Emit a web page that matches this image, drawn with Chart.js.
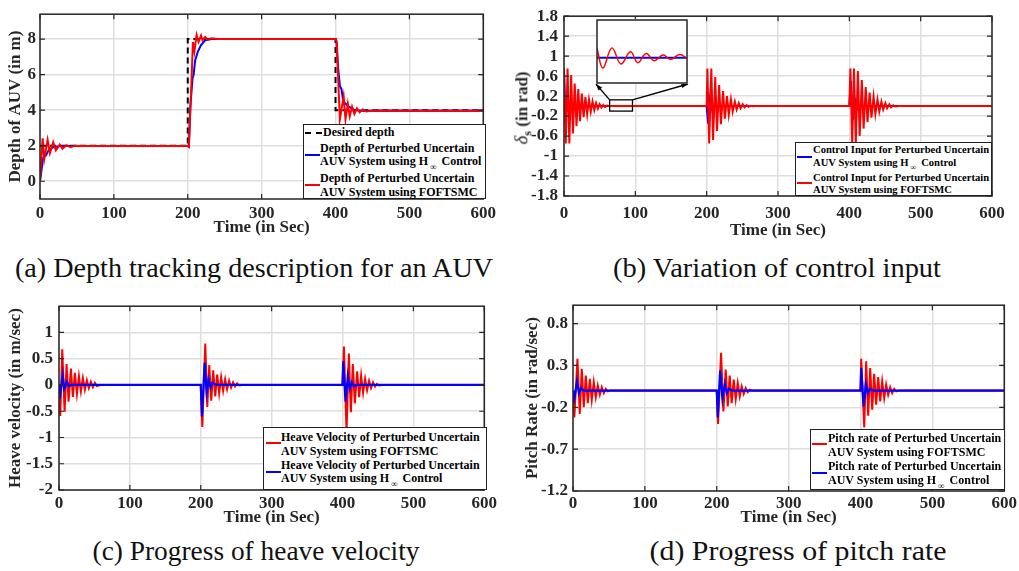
<!DOCTYPE html>
<html>
<head>
<meta charset="utf-8">
<script src="https://cdn.jsdelivr.net/npm/chart.js@4.4.0/dist/chart.umd.min.js"></script>
<style>
  body { margin:0; background:#fff; width:1019px; height:571px; position:relative; overflow:hidden; font-family:"Liberation Serif", serif; }
  .box { position:absolute; }
  .leg { position:absolute; background:#fff; border:1.3px solid #222; box-sizing:border-box; font-weight:bold; color:#000; z-index:5; }
  .leg .t { position:absolute; white-space:nowrap; line-height:14px; }
  .leg .s { position:absolute; height:0; border-top:2px solid; width:15px; }
  .sub { font-size:9px; position:relative; top:5px; margin:0 5px 0 2px; }
  .cap { position:absolute; white-space:nowrap; font-size:27px; color:#111; font-family:"Liberation Serif", serif; }
  #ytB { position:absolute; left:523px; top:108px; transform:translate(-50%,-50%) rotate(-90deg); white-space:nowrap; font-weight:bold; font-size:17px; color:#262626; }
</style>
</head>
<body>

<div class="box" style="left:0;top:0"><canvas id="cA" width="500" height="236"></canvas></div>
<div class="box" style="left:500px;top:0"><canvas id="cB" width="519" height="239"></canvas></div>
<div class="box" style="left:596px;top:19px;z-index:4"><canvas id="cIn" width="92" height="65"></canvas></div>
<div class="box" style="left:0;top:290px"><canvas id="cC" width="500" height="236"></canvas></div>
<div class="box" style="left:500px;top:290px"><canvas id="cD" width="519" height="236"></canvas></div>

<div id="ytB"><i style="font-weight:normal;font-size:19px">δ</i><sub style="font-size:12px">s</sub> (in rad)</div>

<!-- legends -->
<div class="leg" style="left:303px;top:124px;width:183px;height:75px;font-size:12px">
  <div class="s" style="left:1px;top:7px;border-top:2px dashed #000;width:17px"></div>
  <div class="t" style="left:19px;top:0px">Desired depth</div>
  <div class="t" style="left:16px;top:16px">Depth of Perturbed Uncertain</div>
  <div class="s" style="left:1px;top:29px;border-color:#0000ff"></div>
  <div class="t" style="left:16px;top:29px">AUV System using H<span class="sub">∞</span>Control</div>
  <div class="t" style="left:16px;top:46px">Depth of Perturbed Uncertain</div>
  <div class="s" style="left:1px;top:59px;border-color:#ff0000"></div>
  <div class="t" style="left:16px;top:60px">AUV System using FOFTSMC</div>
</div>

<div class="leg" style="left:795px;top:142px;width:197px;height:54px;font-size:10.6px">
  <div class="t" style="left:17px;top:1px;line-height:12px">Control Input for Perturbed Uncertain</div>
  <div class="s" style="left:1px;top:13px;border-color:#0000ff"></div>
  <div class="t" style="left:17px;top:14px;line-height:12px">AUV System using H<span class="sub" style="font-size:8px;top:4px">∞</span>Control</div>
  <div class="t" style="left:17px;top:29px;line-height:12px">Control Input for Perturbed Uncertain</div>
  <div class="s" style="left:1px;top:39px;border-color:#ff0000"></div>
  <div class="t" style="left:17px;top:41px;line-height:12px">AUV System using FOFTSMC</div>
</div>

<div class="leg" style="left:263px;top:427px;width:224px;height:63px;font-size:12px">
  <div class="t" style="left:17px;top:2px">Heave Velocity of Perturbed Uncertain</div>
  <div class="s" style="left:2px;top:14px;border-color:#ff0000"></div>
  <div class="t" style="left:17px;top:16px">AUV System using FOFTSMC</div>
  <div class="t" style="left:17px;top:30px">Heave Velocity of Perturbed Uncertain</div>
  <div class="s" style="left:2px;top:43px;border-color:#0000ff"></div>
  <div class="t" style="left:17px;top:43px">AUV System using H<span class="sub">∞</span>Control</div>
</div>

<div class="leg" style="left:810px;top:429px;width:195px;height:61px;font-size:12px">
  <div class="t" style="left:17px;top:1px">Pitch rate of Perturbed Uncertain</div>
  <div class="s" style="left:1px;top:13px;border-color:#ff0000"></div>
  <div class="t" style="left:17px;top:15px">AUV System using FOFTSMC</div>
  <div class="t" style="left:17px;top:29px">Pitch rate of Perturbed Uncertain</div>
  <div class="s" style="left:1px;top:42px;border-color:#0000ff"></div>
  <div class="t" style="left:17px;top:43px">AUV System using H<span class="sub">∞</span>Control</div>
</div>

<!-- captions -->
<div class="cap" data-x="254" data-y="268" data-w="478">(a) Depth tracking description for an AUV</div>
<div class="cap" data-x="777" data-y="268" data-w="328">(b) Variation of control input</div>
<div class="cap" data-x="256" data-y="551" data-w="327">(c) Progress of heave velocity</div>
<div class="cap" data-x="798" data-y="551" data-w="297">(d) Progress of pitch rate</div>

<script>
// ---- data ----
const timeTicks = [0, 100, 200, 300, 400, 500, 600];

// (a) depth
const depthTicks = [0, 2, 4, 6, 8];
const depthDesT = [0, 200, 200, 400, 400, 600];
const depthDesV = [2, 2, 8, 8, 4, 4];
const depthHinfT = [0, 2, 4, 6, 8, 11, 15, 20, 28, 40,
  200, 201.5, 203.5, 206.5, 208, 210, 213.7, 218, 223.5, 232,
  400, 401.5, 403.5, 406, 408, 410.5, 413.5, 418, 425, 435, 600];
const depthHinfV = [0, 0.6, 1.3, 1.4, 1.45, 1.7, 1.85, 1.93, 1.98, 1.98,
  1.98, 1.95, 4.2, 5.8, 6.0, 6.8, 7.3, 7.66, 7.93, 8.0,
  8.0, 7.8, 6.4, 5.35, 5.2, 4.5, 4.37, 4.2, 4.03, 3.97, 3.97];
const depthFoT = [0, 3.6, 5.8, 10.3, 13.4, 17.9, 21.5, 26.8, 30.4, 35.8, 41.1, 47, 55,
  200, 201.5, 204, 207, 209, 212, 214.6, 218, 220, 223.5, 227, 232, 240,
  400, 401.5, 405.9, 411, 413.5, 416.7, 419.3, 422.4, 425.6, 429, 432.7, 436.8, 442, 450, 600];
const depthFoV = [0, 2.42, 1.26, 2.33, 1.58, 2.19, 1.74, 2.06, 1.83, 2.03, 1.92, 2.0, 1.98,
  1.98, 1.93, 4.5, 7.84, 7.3, 8.23, 7.84, 8.2, 7.93, 8.12, 7.96, 8.05, 8.0,
  8.0, 7.9, 3.48, 4.78, 3.48, 4.37, 3.66, 4.2, 3.79, 4.1, 3.88, 4.04, 3.93, 3.98, 3.97];

// (b) control input
const ctrlTicks = [-1.8, -1.4, -1, -0.6, -0.2, 0.2, 0.6, 1, 1.4, 1.8];
const ctrlFoT = [0, 2.5, 5, 7.5, 10, 12.5, 15, 17.5, 20, 22.5, 25, 27.5, 30, 32.5, 35, 37.5, 40, 42.5, 45, 47.5, 50, 52.5, 55, 57.5, 60, 64,
  200, 201, 203.5, 206.5, 209, 212, 214.5, 217.5, 220, 223, 225.5, 228.5, 231, 234, 236.5, 239.5, 242, 245, 247.5, 250.5, 253, 256, 258.5, 261.5, 264, 270,
  400, 401.5, 404, 406.5, 409, 412, 414.5, 417.5, 420, 423, 425.5, 428.5, 431, 434, 436.5, 439.5, 442, 445, 447.5, 450.5, 453, 456, 458.5, 461.5, 464, 470, 600];
const ctrlFoV = [0.75, -0.75, 0.75, -0.75, 0.62, -0.55, 0.45, -0.4, 0.34, -0.3, 0.25, -0.22, 0.18, -0.16, 0.13, -0.11, 0.09, -0.08, 0.06, -0.05, 0.04, -0.03, 0.025, -0.02, 0.01, 0,
  0, 0.75, -0.75, 0.75, -0.68, 0.58, -0.5, 0.42, -0.36, 0.3, -0.25, 0.2, -0.17, 0.14, -0.11, 0.09, -0.07, 0.06, -0.045, 0.035, -0.025, 0.02, -0.012, 0.008, -0.004, 0,
  0, 0.75, -0.75, 0.75, -0.75, 0.7, -0.6, 0.52, -0.45, 0.38, -0.32, 0.27, -0.23, 0.19, -0.16, 0.13, -0.11, 0.09, -0.07, 0.06, -0.045, 0.035, -0.025, 0.015, -0.008, 0, 0];
const ctrlHinfT = [0, 2, 4, 6, 8, 10, 200, 202, 205, 208, 211, 214, 400, 402, 405, 408, 411, 414, 418, 600];
const ctrlHinfV = [0.7, -0.25, 0.1, -0.05, 0.02, 0, 0, -0.35, 0.2, -0.08, 0.04, 0, 0, 0.5, -0.27, 0.12, -0.06, 0.03, 0, 0];
// zoomed window (inset)
const zoomT = [64, 96];
const zoomV = [-0.1, 0.125];
const insetT = [64, 66.1, 69.3, 72.5, 75.9, 78.5, 81.5, 84.3, 87.5, 90.2, 93.4, 96];
const insetFoV = [0.0028, -0.0032, 0.003, -0.0019, 0.0018, -0.0015, 0.0013, -0.0009, 0.0008, -0.0005, 0.001, -0.0002];
const insetHinfT = [64, 96];
const insetHinfV = [0, 0];

// (c) heave velocity
const heaveTicks = [-2, -1.5, -1, -0.5, 0, 0.5, 1];
const heaveFoT = [0, 1.8, 4.6, 7.9, 10.7, 13.5, 16.8, 19.6, 22.4, 25.3, 28.1, 30.9, 33.7, 36.5, 39.3, 42.1, 45, 47.8, 50.6, 53.4, 58,
  200, 202.2, 206.4, 209.2, 212, 214.8, 217.6, 220.4, 223.2, 226, 228.8, 231.6, 234.4, 237.2, 240, 242.8, 245.6, 248.4, 251.2, 254, 258,
  400, 402, 405.7, 409, 411.8, 414.6, 417.4, 420.7, 423.5, 426.3, 429.1, 431.9, 434.7, 437.5, 440.3, 443.1, 445.9, 448.7, 451.5, 455.7, 600];
const heaveFoV = [0, -0.59, 0.68, -0.51, 0.4, -0.32, 0.31, -0.23, 0.23, -0.17, 0.17, -0.12, 0.13, -0.09, 0.09, -0.06, 0.06, -0.04, 0.04, -0.02, 0,
  0, -0.8, 0.79, -0.42, 0.38, -0.3, 0.28, -0.22, 0.2, -0.16, 0.15, -0.11, 0.11, -0.08, 0.08, -0.05, 0.05, -0.03, 0.03, -0.01, 0,
  0, 0.73, -0.9, 0.6, -0.52, 0.4, -0.35, 0.26, -0.23, 0.18, -0.15, 0.12, -0.1, 0.08, -0.06, 0.05, -0.03, 0.02, -0.01, 0, 0];
const heaveHinfT = [0, 1, 5.2, 7.4, 11.2, 14, 18, 200, 201.7, 205.5, 208.3, 211, 213.8, 216.6, 222, 400, 401, 404.3, 407.5, 410.3, 413.1, 416, 420, 600];
const heaveHinfV = [0, -0.26, 0.19, -0.07, 0.06, -0.02, 0, 0, -0.6, 0.42, -0.15, 0.11, -0.05, 0.04, 0, 0, 0.45, -0.32, 0.17, -0.07, 0.05, -0.02, 0, 0];

// (d) pitch rate
const pitchTicks = [-1.2, -0.7, -0.2, 0.3, 0.8];
const pitchFoT = [0, 1.9, 6.2, 9.4, 12.2, 15, 17.8, 20.6, 23.4, 26.1, 28.9, 31.7, 34.5, 37.3, 40.1, 42.9, 45.7, 48.4, 51.2,
  200, 201.8, 206, 209.2, 212.5, 215.3, 218, 220.8, 223.6, 226.4, 229.2, 232, 234.7, 237.5, 240.3, 243.1, 245.9, 249.6,
  400, 401, 405.2, 407.9, 410.7, 413.5, 416.3, 419, 421.8, 424.6, 427.4, 430.2, 433, 435.7, 438.5, 441.3, 444.1, 446.9, 449.7, 453.4, 600];
const pitchFoV = [0, -0.32, 0.38, -0.28, 0.26, -0.2, 0.18, -0.15, 0.14, -0.11, 0.1, -0.08, 0.06, -0.05, 0.04, -0.03, 0.02, -0.01, 0,
  0, -0.4, 0.45, -0.25, 0.25, -0.19, 0.18, -0.15, 0.13, -0.1, 0.09, -0.07, 0.05, -0.04, 0.03, -0.02, 0.01, 0,
  0, 0.38, -0.44, 0.35, -0.3, 0.27, -0.23, 0.2, -0.17, 0.16, -0.13, 0.11, -0.09, 0.07, -0.05, 0.04, -0.03, 0.02, -0.01, 0, 0];
const pitchHinfT = [0, 1, 5.6, 8.3, 11.1, 14.8, 200, 201.4, 204.7, 207.9, 211.2, 214, 217, 222, 400, 401, 404.3, 407.5, 410.3, 413.1, 418, 600];
const pitchHinfV = [0, -0.15, 0.11, -0.03, 0.03, 0, 0, -0.32, 0.24, -0.1, 0.08, -0.03, 0.02, 0, 0, 0.27, -0.19, 0.08, -0.03, 0.02, 0, 0];

// ---- helpers ----
const RED = '#ff0000', BLUE = '#0000ff', INK = '#262626', GRID = '#dedede';
const serif = '"Liberation Serif", "Times New Roman", serif';
const tickFont = { family: serif, size: 17, weight: 'bold' };
const titleFont = { family: serif, size: 17, weight: 'bold', lineHeight: 1 };

function series(t, v) { return t.map((x, i) => ({ x: x, y: v[i] })); }

// matlab style box with inward ticks
const framePlugin = {
  id: 'frame',
  afterDraw(chart, args, opts) {
    const { ctx, chartArea: a } = chart;
    ctx.save();
    ctx.strokeStyle = INK;
    ctx.lineWidth = opts.width || 1.5;
    ctx.strokeRect(a.left, a.top, a.right - a.left, a.bottom - a.top);
    if (opts.ticks) {
      const L = 5;
      ctx.lineWidth = 1.2;
      ctx.beginPath();
      chart.scales.x.ticks.forEach(t => {
        const px = chart.scales.x.getPixelForValue(t.value);
        ctx.moveTo(px, a.bottom); ctx.lineTo(px, a.bottom - L);
        ctx.moveTo(px, a.top); ctx.lineTo(px, a.top + L);
      });
      chart.scales.y.ticks.forEach(t => {
        const py = chart.scales.y.getPixelForValue(t.value);
        ctx.moveTo(a.left, py); ctx.lineTo(a.left + L, py);
        ctx.moveTo(a.right, py); ctx.lineTo(a.right - L, py);
      });
      ctx.stroke();
    }
    ctx.restore();
  }
};

function arrow(ctx, x0, y0, x1, y1) {
  ctx.beginPath(); ctx.moveTo(x0, y0); ctx.lineTo(x1, y1); ctx.stroke();
  const ang = Math.atan2(y1 - y0, x1 - x0), h = 7;
  ctx.beginPath();
  ctx.moveTo(x1, y1);
  ctx.lineTo(x1 - h * Math.cos(ang - 0.35), y1 - h * Math.sin(ang - 0.35));
  ctx.lineTo(x1 - h * Math.cos(ang + 0.35), y1 - h * Math.sin(ang + 0.35));
  ctx.closePath(); ctx.fill();
}

// small box on (b) and the arrows to the inset
const zoomPlugin = {
  id: 'zoomMark',
  afterDatasetsDraw(chart) {
    const { ctx, scales: { x, y } } = chart;
    const x0 = x.getPixelForValue(zoomT[0]), x1 = x.getPixelForValue(zoomT[1]);
    const y0 = y.getPixelForValue(zoomV[1]), y1 = y.getPixelForValue(zoomV[0]);
    ctx.save();
    ctx.strokeStyle = '#000'; ctx.fillStyle = '#000'; ctx.lineWidth = 1.3;
    ctx.strokeRect(x0, y0, x1 - x0, y1 - y0);
    arrow(ctx, x0, y0, 96, 84);
    arrow(ctx, x1, y0, 188, 84);
    ctx.restore();
  }
};

function build(id, o) {
  return new Chart(document.getElementById(id), {
    type: 'line',
    data: { datasets: o.datasets },
    options: {
      responsive: false, animation: false, devicePixelRatio: 1,
      layout: { padding: o.pad },
      elements: { point: { radius: 0 }, line: { tension: 0 } },
      plugins: { legend: { display: false }, tooltip: { enabled: false }, frame: { ticks: true } },
      scales: {
        x: {
          type: 'linear', min: 0, max: 600,
          afterBuildTicks: s => { s.ticks = timeTicks.map(v => ({ value: v })); },
          afterFit: s => { s.height = o.xh; },
          grid: { color: GRID, lineWidth: 1.5, drawTicks: false },
          border: { display: false },
          ticks: { font: tickFont, color: INK, padding: o.xpad, maxRotation: 0, autoSkip: false, callback: v => String(v) },
          title: { display: true, text: 'Time (in Sec)', font: titleFont, color: INK, padding: 0 }
        },
        y: {
          type: 'linear', min: o.ymin, max: o.ymax,
          afterBuildTicks: s => { s.ticks = o.yticks.map(v => ({ value: v })); },
          afterFit: s => { s.width = o.yw; },
          grid: { color: GRID, lineWidth: 1.5, drawTicks: false },
          border: { display: false },
          ticks: { font: tickFont, color: INK, padding: o.ypad, autoSkip: false, callback: v => String(v) },
          title: { display: !!o.ytitle, text: o.ytitle, font: titleFont, color: INK, padding: { top: o.ytp, bottom: 0 } }
        }
      }
    },
    plugins: [framePlugin].concat(o.extra || [])
  });
}

// (a)
build('cA', {
  pad: { top: 4, right: 13, left: 0, bottom: 0 }, xh: 37, xpad: 4, yw: 40, ypad: 4,
  ymin: -1, ymax: 9.4, yticks: depthTicks, ytitle: 'Depth of AUV (in m)', ytp: 7.5,
  datasets: [
    { data: series(depthFoT, depthFoV), borderColor: RED, borderWidth: 2, order: 0 },
    { data: series(depthHinfT, depthHinfV), borderColor: BLUE, borderWidth: 2, order: 1 },
    { data: series(depthDesT, depthDesV), borderColor: '#000', borderWidth: 2, borderDash: [6, 4], order: 2 }
  ]
});

// (b)
build('cB', {
  pad: { top: 13, right: 27, left: 0, bottom: 0 }, xh: 43, xpad: 7, yw: 64, ypad: 6,
  ymin: -1.8, ymax: 1.8, yticks: ctrlTicks, ytitle: '',
  datasets: [
    { data: series(ctrlFoT, ctrlFoV), borderColor: RED, borderWidth: 2, order: 0 },
    { data: series(ctrlHinfT, ctrlHinfV), borderColor: BLUE, borderWidth: 2, order: 1 }
  ],
  extra: [zoomPlugin]
});

// inset of (b)
new Chart(document.getElementById('cIn'), {
  type: 'line',
  data: { datasets: [
    { data: series(insetT, insetFoV), borderColor: RED, borderWidth: 1.5, tension: 0.4, order: 0 },
    { data: series(insetHinfT, insetHinfV), borderColor: BLUE, borderWidth: 2, order: 1 }
  ] },
  options: {
    responsive: false, animation: false, devicePixelRatio: 1,
    layout: { padding: 1 },
    elements: { point: { radius: 0 } },
    plugins: { legend: { display: false }, tooltip: { enabled: false }, frame: { width: 1.5 } },
    scales: {
      x: { type: 'linear', min: zoomT[0], max: zoomT[1], display: false },
      y: { type: 'linear', min: -0.0077, max: 0.0115, display: false }
    }
  },
  plugins: [{ id: 'bg', beforeDraw(c) { c.ctx.save(); c.ctx.fillStyle = '#fff'; c.ctx.fillRect(0, 0, c.width, c.height); c.ctx.restore(); } }, framePlugin]
});

// (c)
build('cC', {
  pad: { top: 10, right: 14, left: 0, bottom: 0 }, xh: 36, xpad: 3, yw: 59, ypad: 6,
  ymin: -2, ymax: 1.5, yticks: heaveTicks, ytitle: 'Heave velocity (in m/sec)', ytp: 7.5,
  datasets: [
    { data: series(heaveHinfT, heaveHinfV), borderColor: BLUE, borderWidth: 2.2, order: 0 },
    { data: series(heaveFoT, heaveFoV), borderColor: RED, borderWidth: 2, order: 1 }
  ]
});

// (d)
build('cD', {
  pad: { top: 9, right: 14, left: 0, bottom: 0 }, xh: 35, xpad: 2, yw: 73, ypad: 5,
  ymin: -1.2, ymax: 1.02, yticks: pitchTicks, ytitle: 'Pitch Rate (in rad/sec)', ytp: 24.5,
  datasets: [
    { data: series(pitchHinfT, pitchHinfV), borderColor: BLUE, borderWidth: 2.2, order: 0 },
    { data: series(pitchFoT, pitchFoV), borderColor: RED, borderWidth: 2, order: 1 }
  ]
});

// captions: centre them and stretch to the measured width
document.querySelectorAll('.cap').forEach(el => {
  const w = el.getBoundingClientRect().width;
  el.style.left = el.dataset.x + 'px';
  el.style.top = el.dataset.y + 'px';
  el.style.transform = 'translate(-50%,-50%) scaleX(' + (el.dataset.w / w).toFixed(3) + ')';
});
</script>
</body>
</html>
